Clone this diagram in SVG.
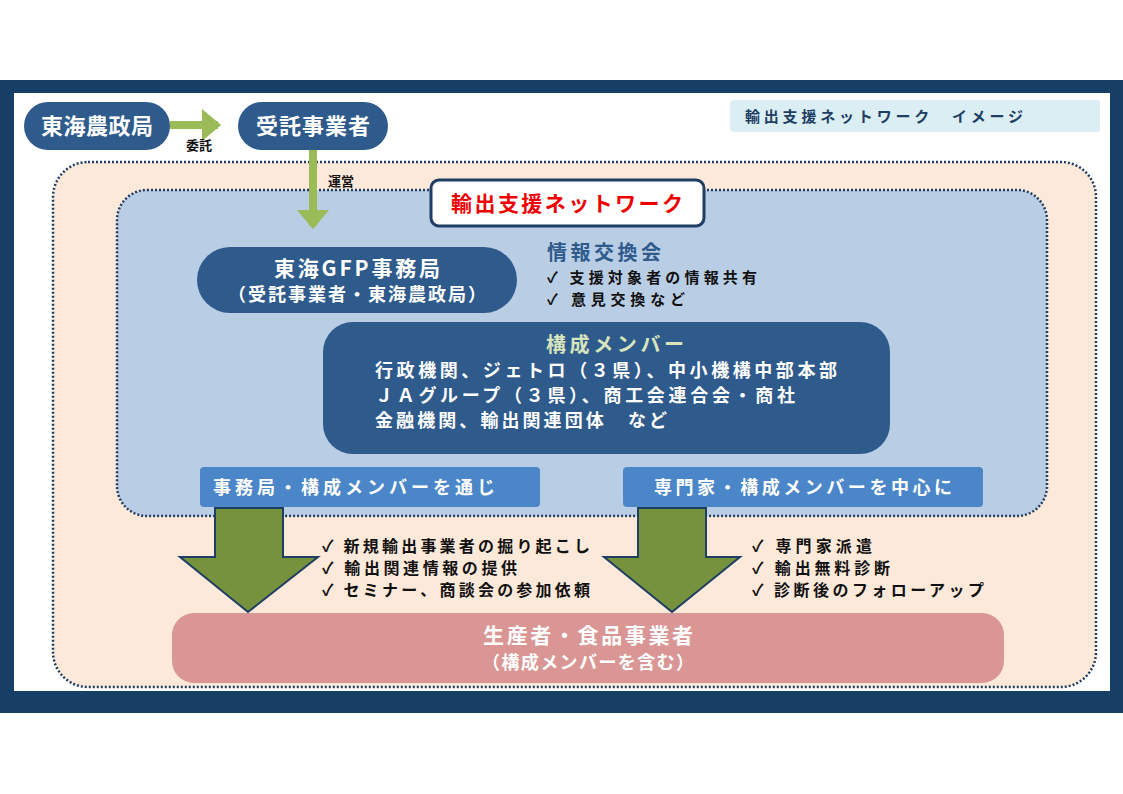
<svg xmlns="http://www.w3.org/2000/svg" width="1123" height="794" viewBox="0 0 1123 794">
<style>
text{font-family:"Noto Sans CJK JP","Noto Sans",sans-serif;font-weight:bold}
.nav{fill:#2e5a8c}
.w{fill:#fff}
.blk{fill:#111}
</style>
<defs>
<marker id="ga" markerWidth="4" markerHeight="4" refX="2" refY="2" orient="auto" markerUnits="strokeWidth"><path d="M0,0L2.4,2L0,4z" fill="#9bbb59"/></marker>
</defs>
<rect x="0" y="80" width="1123" height="633" fill="#173f66"/>
<rect x="14" y="93" width="1096" height="598" fill="#fff"/>
<rect x="53" y="162" width="1043" height="525" rx="35" fill="#fde9d9" stroke="#1f3e63" stroke-width="2.5" stroke-dasharray="2 2"/>
<rect x="117" y="190" width="930" height="326" rx="30" fill="#b9cde5" stroke="#1f3e63" stroke-width="2.5" stroke-dasharray="2 2"/>
<g id="legend"><rect x="730" y="100" width="370" height="32" rx="4" fill="#dbeef4"/><text x="745" y="122" font-size="15" fill="#1f3e63" textLength="278">輸出支援ネットワーク　イメージ</text></g>
<g id="connectors">
<line x1="170" y1="125" x2="218" y2="125" stroke="#9bbb59" stroke-width="8" marker-end="url(#ga)"/>
<line x1="313" y1="150" x2="313" y2="226" stroke="#9bbb59" stroke-width="8" marker-end="url(#ga)"/>
<text x="199" y="150" font-size="13" class="blk" text-anchor="middle">委託</text>
<text x="341" y="186" font-size="13" class="blk" text-anchor="middle">運営</text>
<path d="M215,508H283V557H318L248,612L180,557H215Z" fill="#76923c" stroke="#1f3e63" stroke-width="2"/>
<path d="M638,508H706V557H740L672,612L604,557H638Z" fill="#76923c" stroke="#1f3e63" stroke-width="2"/>
</g>
<g id="n1"><rect x="24" y="102" width="146" height="48" rx="24" class="nav"/><text x="97" y="134" font-size="22" class="w" text-anchor="middle" textLength="112">東海農政局</text></g>
<g id="n2"><rect x="238" y="102" width="150" height="48" rx="24" class="nav"/><text x="313" y="134" font-size="22" class="w" text-anchor="middle" textLength="114">受託事業者</text></g>
<g id="title"><rect x="431" y="180" width="273" height="46" rx="8" fill="#fff" stroke="#1f3e63" stroke-width="3"/><text x="567" y="211" font-size="21" fill="#e00" text-anchor="middle" textLength="232">輸出支援ネットワーク</text></g>
<g id="gfp"><rect x="197" y="247" width="320" height="66" rx="33" class="nav"/><text x="357" y="276" font-size="21" class="w" text-anchor="middle" textLength="166">東海GFP事務局</text><text x="357" y="301" font-size="18" class="w" text-anchor="middle" textLength="258">（受託事業者・東海農政局）</text></g>
<g id="info"><text x="547" y="260" font-size="20" fill="#2e5a8c" textLength="114">情報交換会</text><text x="547" y="283" font-size="15" class="blk" textLength="210">✓  支援対象者の情報共有</text><text x="547" y="305" font-size="15" class="blk" textLength="138">✓  意見交換など</text></g>
<g id="members"><rect x="323" y="322" width="567" height="132" rx="30" class="nav"/><text x="615" y="352" font-size="20" fill="#d7e4bd" text-anchor="middle" textLength="138">構成メンバー</text>
<text x="375" y="377" font-size="18" class="w" textLength="462">行政機関、ジェトロ（３県）、中小機構中部本部</text>
<text x="375" y="402" font-size="18" class="w" textLength="420">ＪＡグループ（３県）、商工会連合会・商社</text>
<text x="375" y="427" font-size="18" class="w" textLength="292">金融機関、輸出関連団体　など</text></g>
<g id="b1"><rect x="200" y="467" width="340" height="40" rx="4" fill="#4a86c8"/><text x="213" y="494" font-size="18" class="w" textLength="282">事務局・構成メンバーを通じ</text></g>
<g id="b2"><rect x="623" y="467" width="360" height="40" rx="4" fill="#4a86c8"/><text x="803" y="494" font-size="18" class="w" text-anchor="middle" textLength="298">専門家・構成メンバーを中心に</text></g>
<g id="l1"><text x="322" y="552" font-size="16" class="blk" textLength="268">✓  新規輸出事業者の掘り起こし</text><text x="322" y="574" font-size="16" class="blk" textLength="195">✓  輸出関連情報の提供</text><text x="322" y="596" font-size="16" class="blk" textLength="268">✓  セミナー、商談会の参加依頼</text></g>
<g id="l2"><text x="752" y="552" font-size="16" class="blk" textLength="120">✓  専門家派遣</text><text x="752" y="574" font-size="16" class="blk" textLength="138">✓  輸出無料診断</text><text x="752" y="596" font-size="16" class="blk" textLength="232">✓  診断後のフォローアップ</text></g>
<g id="prod"><rect x="172" y="613" width="832" height="70" rx="22" fill="#d99694"/><text x="588" y="643" font-size="21" class="w" text-anchor="middle" textLength="210">生産者・食品事業者</text><text x="588" y="669" font-size="18" class="w" text-anchor="middle" textLength="212">（構成メンバーを含む）</text></g>
</svg>
